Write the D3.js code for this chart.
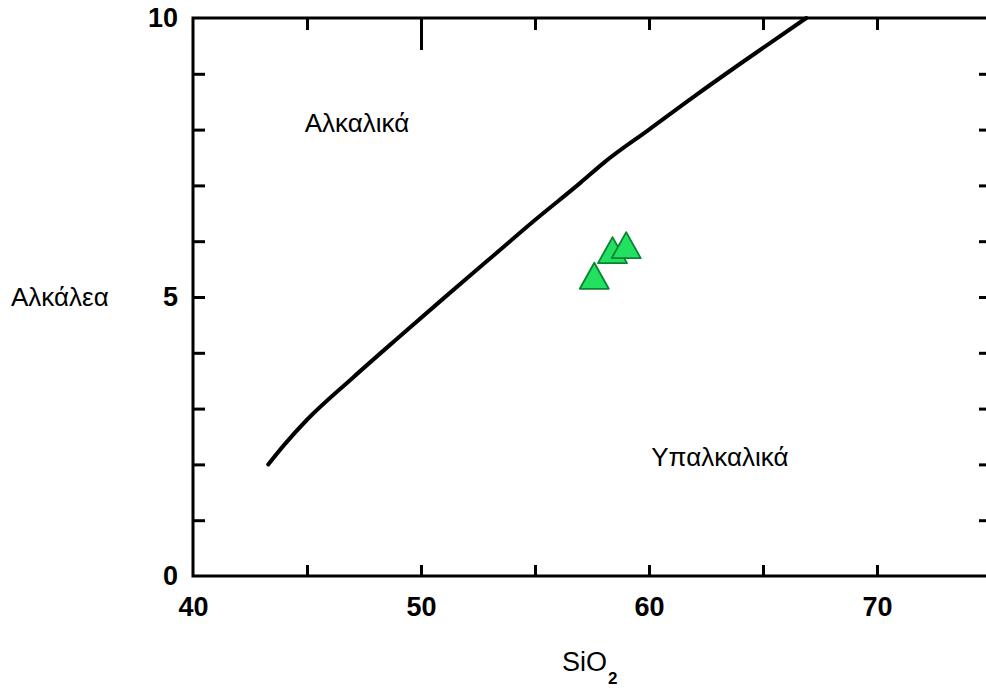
<!DOCTYPE html>
<html>
<head>
<meta charset="utf-8">
<script src="https://cdn.jsdelivr.net/npm/d3@7"></script>
<style>
  html, body { margin: 0; padding: 0; background: #fff; }
  svg { display: block; }
  .lbl { font-family: "Liberation Sans", Arial, sans-serif; fill: #000; }
</style>
</head>
<body>
<svg id="chart" width="986" height="691"></svg>
<script>
// TAS diagram: alkaline / subalkaline dividing line (Irvine & Baragar)
const boundarySiO2   = [43.3, 44.0, 45.0, 47.0, 49.0, 51.0, 53.0, 55.0, 57.0, 58.0, 60.0, 62.0, 64.0, 66.9];
const boundaryAlkali = [2.0, 2.35, 2.8, 3.55, 4.27, 4.98, 5.68, 6.38, 7.05, 7.4, 8.0, 8.6, 9.18, 10.0];

// Samples
const sampleSiO2   = [57.6, 58.4, 59.0];
const sampleAlkali = [5.38, 5.84, 5.93];

// Axis ticks and labels
const xLabelTicks = [40, 50, 60, 70];
const xMinorTicks = [45, 50, 55, 60, 65, 70];
const yLabelTicks = [0, 5, 10];
const yMinorTicks = [1, 2, 3, 4, 5, 6, 7, 8, 9];

const fieldLabels = [
  { text: "Αλκαλικά", x: 44.9, y: 8.12 },
  { text: "Υπαλκαλικά", x: 60.1, y: 2.13 }
];

const svg = d3.select("#chart");
const x = d3.scaleLinear().domain([40, 75]).range([193, 991]);
const y = d3.scaleLinear().domain([0, 10]).range([576, 18]);

const frame = svg.append("g");

// Ticks pointing into the plot
frame.append("g").attr("transform", `translate(${x(40)},0)`)
  .call(d3.axisLeft(y).tickValues(yMinorTicks).tickSize(-12).tickFormat(""));
frame.append("g").attr("transform", `translate(${x(75)},0)`)
  .call(d3.axisRight(y).tickValues(yMinorTicks).tickSize(-12).tickFormat(""));
frame.append("g").attr("transform", `translate(0,${y(0)})`)
  .call(d3.axisBottom(x).tickValues(xMinorTicks).tickSize(-11).tickFormat(""));
frame.append("g").attr("transform", `translate(0,${y(10)})`)
  .call(d3.axisTop(x).tickValues(xMinorTicks).tickSize(-12).tickFormat(""))
  .call(g => g.selectAll(".tick").filter(d => d === 50).select("line").attr("y2", 32));

frame.selectAll(".domain").remove();
frame.selectAll(".tick line").attr("stroke", "#000").attr("stroke-width", 3);

// Plot frame
frame.append("rect")
  .attr("x", x(40)).attr("y", y(10))
  .attr("width", x(75) - x(40)).attr("height", y(0) - y(10))
  .attr("fill", "none").attr("stroke", "#000").attr("stroke-width", 3);

// Tick labels
const xl = svg.append("g").attr("transform", `translate(0,${y(0)})`)
  .call(d3.axisBottom(x).tickValues(xLabelTicks).tickSize(0).tickFormat(d3.format("d")));
const yl = svg.append("g").attr("transform", `translate(${x(40)},0)`)
  .call(d3.axisLeft(y).tickValues(yLabelTicks).tickSize(0).tickPadding(15).tickFormat(d3.format("d")));
[xl, yl].forEach(g => {
  g.select(".domain").remove();
  g.selectAll("text").attr("class", "lbl")
    .style("font-size", "27px").style("font-weight", "bold");
});
xl.selectAll("text").attr("dy", "0.35em").attr("y", 31);

// Boundary curve
const boundary = boundarySiO2.map((s, i) => [s, boundaryAlkali[i]]);
svg.append("path")
  .datum(boundary)
  .attr("fill", "none").attr("stroke", "#000").attr("stroke-width", 4)
  .attr("stroke-linecap", "round")
  .attr("d", d3.line().x(d => x(d[0])).y(d => y(d[1])).curve(d3.curveMonotoneX));

// Sample triangles
const triW = 29, triH = 26;
svg.append("g").selectAll("path")
  .data(sampleSiO2.map((s, i) => [s, sampleAlkali[i]]))
  .join("path")
  .attr("d", d => {
    const cx = x(d[0]), cy = y(d[1]);
    return `M${cx},${cy - triH / 2}L${cx + triW / 2},${cy + triH / 2}L${cx - triW / 2},${cy + triH / 2}Z`;
  })
  .attr("fill", "#22e060").attr("stroke", "#0a8430").attr("stroke-width", 1.8)
  .attr("stroke-linejoin", "round");

// Field names
svg.append("g").selectAll("text")
  .data(fieldLabels)
  .join("text")
  .attr("class", "lbl")
  .attr("x", d => x(d.x))
  .attr("y", d => y(d.y))
  .attr("dy", "0.35em")
  .style("font-size", "26px")
  .text(d => d.text);

// Axis titles
svg.append("text").attr("class", "lbl")
  .attr("x", 11).attr("y", y(5)).attr("dy", "0.35em")
  .style("font-size", "26px").text("Αλκάλεα");

const xt = svg.append("text").attr("class", "lbl")
  .attr("x", 562).attr("y", 671).style("font-size", "27px");
xt.append("tspan").text("SiO");
xt.append("tspan").attr("dy", 13).attr("dx", 1).style("font-size", "17px").style("font-weight", "bold").text("2");
</script>
</body>
</html>
